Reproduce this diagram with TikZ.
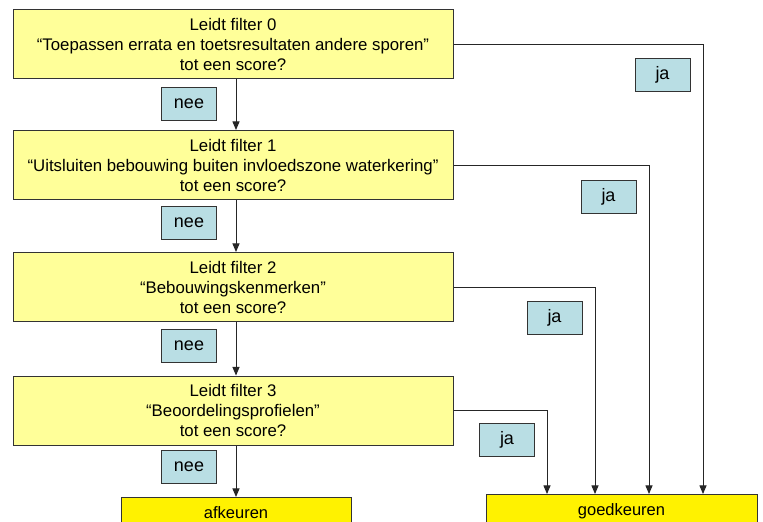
\documentclass[tikz,border=0pt]{standalone}
\usepackage{fontspec}
\setmainfont{Liberation Sans}
\usepackage{tikz}
\usetikzlibrary{calc}
\usetikzlibrary{arrows,shapes}

\definecolor{filteryellow}{RGB}{255,255,153}
\definecolor{answerblue}{RGB}{185,222,228}

\begin{document}
\begin{tikzpicture}[x=1pt,y=-1pt,>=triangle 45,
  filterbox/.style={draw=black!80,line width=1pt,fill=filteryellow,minimum width=440pt,minimum height=69pt,align=center,inner sep=0pt,font=\fontsize{16.8}{20}\selectfont},
  answer/.style={draw=black!80,line width=1pt,fill=answerblue,minimum width=55pt,minimum height=33pt,inner sep=0pt,font=\fontsize{18}{20}\selectfont},
  endbox/.style={draw=black!80,line width=1pt,fill=yellow,anchor=north,inner sep=0pt,font=\fontsize{16.5}{19}\selectfont},
  flow/.style={draw=black!85,line width=1pt}]

\useasboundingbox (0,0) rectangle (763,522);
\clip (0,0) rectangle (763,522);

    \node[filterbox] (f0) at (233,44) {Leidt filter 0\\“Toepassen errata en toetsresultaten andere sporen”\\tot een score?};
    \node[filterbox] (f1) at (233,165) {Leidt filter 1\\“Uitsluiten bebouwing buiten invloedszone waterkering”\\tot een score?};
    \node[filterbox] (f2) at (233,287) {Leidt filter 2\\“Bebouwingskenmerken”\\tot een score?};
    \node[filterbox] (f3) at (233,410.5) {Leidt filter 3\\“Beoordelingsprofielen”\\tot een score?};

    \node[endbox,minimum width=230pt,minimum height=30pt] (afk) at (236,497) {afkeuren};
    \node[endbox,minimum width=271pt,minimum height=34pt] (goed) at (621.5,494) {goedkeuren};

    \node[answer] (nee0) at (189,103.5) {nee};
    \node[answer] (nee1) at (189,223) {nee};
    \node[answer] (nee2) at (189,345.5) {nee};
    \node[answer] (nee3) at (189,467) {nee};

    \node[answer] (ja0) at (662.5,74.5) {ja};
    \node[answer] (ja1) at (608.5,197) {ja};
    \node[answer] (ja2) at (554.5,317.5) {ja};
    \node[answer] (ja3) at (507,440) {ja};

    \coordinate (in0) at (703,494);
    \coordinate (in1) at (649,494);
    \coordinate (in2) at (595,494);
    \coordinate (in3) at (547,494);

    \draw[flow,->] (f0.south -| afk.north) -- (f1.north -| afk.north);
    \draw[flow,->] (f1.south -| afk.north) -- (f2.north -| afk.north);
    \draw[flow,->] (f2.south -| afk.north) -- (f3.north -| afk.north);
    \draw[flow,->] (f3.south -| afk.north) -- (afk.north);

    \draw[flow,->] (f0.east) -| (in0);
    \draw[flow,->] (f1.east) -| (in1);
    \draw[flow,->] (f2.east) -| (in2);
    \draw[flow,->] (f3.east) -| (in3);

\end{tikzpicture}
\end{document}
